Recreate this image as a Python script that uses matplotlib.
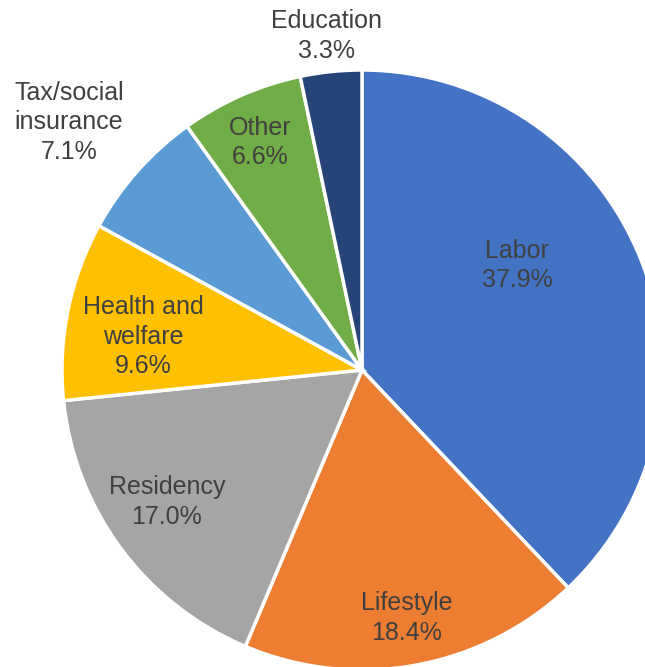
import numpy as np
import matplotlib.pyplot as plt

plt.rcParams['font.family'] = ['Liberation Sans', 'DejaVu Sans']

# доли категорий, %
categories = ['Labor', 'Lifestyle', 'Residency', 'Health and\nwelfare',
              'Tax/social\ninsurance', 'Other', 'Education']
shares = [37.9, 18.4, 17.0, 9.6, 7.1, 6.6, 3.3]
colors = ['#4472C4', '#ED7D31', '#A5A5A5', '#FFC000',
          '#5B9BD5', '#70AD47', '#264478']

# расстояние подписи от центра и сдвиг по углу
label_r = [0.63, 0.83, 0.78, 0.74, 1.285, 0.84, 1.13]
label_shift = [13, 0, -3, 2, 1, 0, 0]

fig = plt.figure(figsize=(6.45, 6.67), dpi=100)
W, H = 645, 667
cx, cy, R = 362, 370, 300
ax = fig.add_axes([(cx - R) / W, (H - cy - R) / H, 2 * R / W, 2 * R / H])

wedges, _ = ax.pie(shares, colors=colors, startangle=90, counterclock=False,
                   radius=1, wedgeprops=dict(edgecolor='white', linewidth=2.5))
ax.set_xlim(-1, 1)
ax.set_ylim(-1, 1)
ax.axis('off')
for w, name, v, r, s in zip(wedges, categories, shares, label_r, label_shift):
    ang = np.deg2rad((w.theta1 + w.theta2) / 2 + s)
    ax.text(r * np.cos(ang), r * np.sin(ang) - 0.01, f'{name}\n{v:.1f}%',
            ha='center', va='center', fontsize=18, color='#404040',
            linespacing=1.3, clip_on=False)

fig.savefig('out.png', dpi=100)
